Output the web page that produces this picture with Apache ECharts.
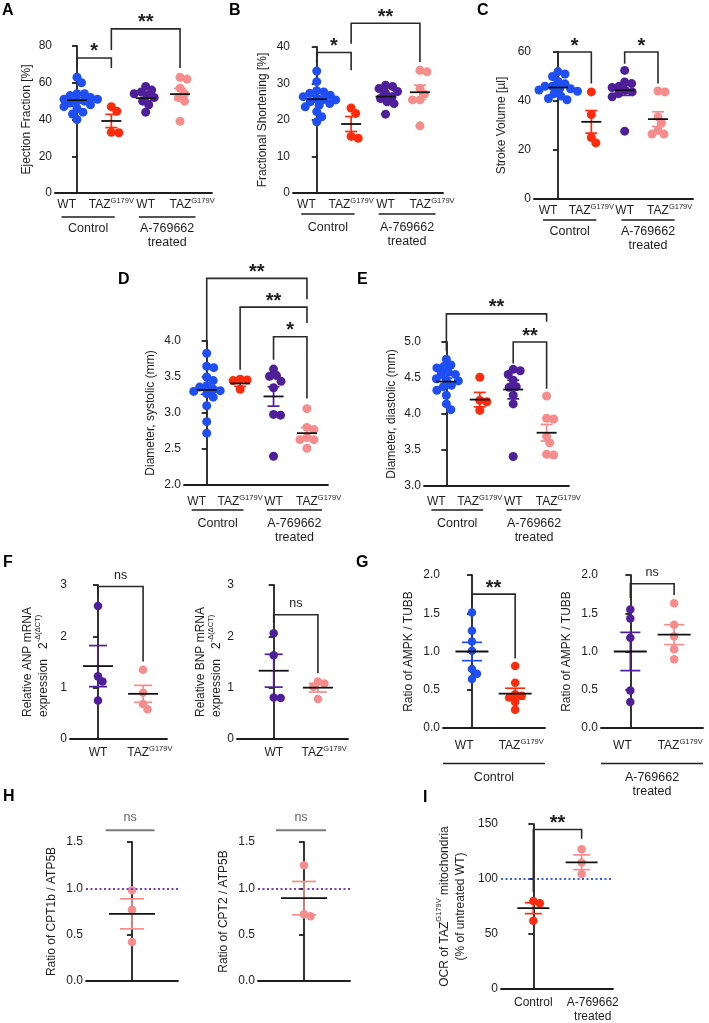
<!DOCTYPE html>
<html><head><meta charset="utf-8">
<script src="https://cdn.jsdelivr.net/npm/echarts@6/dist/echarts.min.js"></script>
<style>html,body{margin:0;padding:0;background:#fff}#c{width:709px;height:1023px}</style>
</head><body><div id="c"></div><script>
// ---------- text ----------
const GENO4 = ['WT', 'TAZ^{G179V}', 'WT', 'TAZ^{G179V}'];
const GENO2 = ['WT', 'TAZ^{G179V}'];
const GROUPS = ['Control', 'A-769662\ntreated'];
const I_CATS = ['Control', 'A-769662\ntreated'];
const LETTERS = ['A','B','C','D','E','F','G','H','I'];

// ---------- axis ranges [min,max,interval] ----------
const A_Y = [0, 80, 20], B_Y = [0, 40, 10], C_Y = [0, 60, 20];
const D_Y = [2, 4, 0.5], E_Y = [3, 5, 0.5], F_Y = [0, 3, 1];
const G_Y = [0, 2, 0.5], H_Y = [0, 1.5, 0.5], I_Y = [0, 150, 50];

// ---------- data ----------
const A_WT  = [63, 60, 54, 54, 53, 52, 51, 51, 50, 50, 49, 48, 47, 46, 44, 43, 40];
const A_TAZ = [47, 44.5, 33, 32.8];
const A_WTT = [58, 56, 55, 54, 53, 52, 50, 48, 44];
const A_TAZT= [63, 62, 57, 54, 52, 50, 39];
const A_MEAN = [50.5, 39.2, 51.6, 53.8], A_SEM = [1.5, 3.6, 1.4, 3.1];
const A_SIG = [[0, 1, 73.5, 68.6, 68, '*'], [1, 3, 89.3, 77.8, 68, '**']];

const B_WT  = [33.4, 30.5, 28, 27.7, 27.3, 26.8, 26.4, 25.9, 25.6, 25.5, 25, 24.5, 24.1, 23.6, 22.3, 20.9, 19.5];
const B_TAZ = [23.3, 21.8, 15.5, 15];
const B_WTT = [29.5, 29.2, 28.6, 27.8, 27.3, 26.4, 25.9, 25, 24.5, 21.6];
const B_TAZT= [33.6, 33.2, 28.6, 27.1, 25.5, 25.5, 18.4];
const B_MEAN = [25.7, 18.9, 26.4, 27.6], B_SEM = [0.8, 2.05, 0.8, 1.95];
const B_SIG = [[0, 1, 38.5, 35.6, 33.6, '*'], [1, 3, 46.5, 40.9, 35.9, '**']];

const C_WT  = [52, 51, 50, 48, 47, 46, 46, 45, 45, 44.5, 44, 43, 42, 41, 40.5];
const C_TAZ = [43.7, 34.5, 25.1, 22.9];
const C_WTT = [52.5, 47.8, 47.1, 46, 45.5, 44.4, 43.7, 43, 41.7, 27.7];
const C_TAZT= [44.1, 43.7, 33.5, 31, 28, 26.5, 26.5];
const C_MEAN = [45.5, 31.5, 44.4, 32.6], C_SEM = [0.9, 4.6, 2.1, 3.0];
const C_SIG = [[0, 1, 60, 55.2, 47.1, '*'], [2, 3, 60, 55.2, 47.1, '*']];

const D_WT  = [3.83, 3.65, 3.63, 3.50, 3.45, 3.38, 3.36, 3.33, 3.31, 3.30, 3.27, 3.22, 3.10, 2.88, 2.72];
const D_TAZ = [3.47, 3.46, 3.45, 3.33];
const D_WTT = [3.61, 3.52, 3.51, 3.44, 3.35, 2.98, 2.97, 2.40];
const D_TAZT= [3.06, 2.80, 2.77, 2.66, 2.63, 2.63, 2.51];
const D_MEAN = [3.32, 3.41, 3.23, 2.72], D_SEM = [0.06, 0.04, 0.135, 0.08];
const D_SIG = [[0, 3, 4.87, 3.93, 4.58, '**'], [1, 3, 4.47, 3.6, 4.25, '**'], [2, 3, 4.06, 3.74, 3.2, '*']];

const E_WT  = [4.76, 4.68, 4.66, 4.64, 4.58, 4.56, 4.55, 4.49, 4.47, 4.46, 4.40, 4.38, 4.33, 4.26, 4.14, 4.06];
const E_TAZ = [4.51, 4.19, 4.17, 4.05];
const E_WTT = [4.62, 4.60, 4.55, 4.47, 4.38, 4.37, 4.26, 4.14, 3.41];
const E_TAZT= [4.25, 3.94, 3.93, 3.69, 3.60, 3.44, 3.43];
const E_MEAN = [4.45, 4.20, 4.34, 3.74], E_SEM = [0.05, 0.10, 0.13, 0.115];
const E_SIG = [[0, 3, 5.39, 4.88, 5.28, '**'], [2, 3, 5.0, 4.70, 4.35, '**']];

const F1_WT = [2.59, 1.22, 1.12, 0.75], F1_TAZ = [1.35, 0.90, 0.68, 0.58];
const F1_MEAN = [1.42, 0.88], F1_SEM = [0.40, 0.165];
const F1_SIG = [[0, 1, 2.97, 2.77, 1.51, 'ns']];
const F2_WT = [2.06, 1.63, 0.81, 0.80], F2_TAZ = [1.12, 1.08, 1.02, 0.78];
const F2_MEAN = [1.33, 1.0], F2_SEM = [0.32, 0.085];
const F2_SIG = [[0, 1, 2.42, 2.26, 1.28, 'ns']];

const G1_WT = [1.51, 1.27, 1.13, 1.01, 0.77, 0.71, 0.64], G1_TAZ = [0.81, 0.59, 0.44, 0.42, 0.40, 0.34, 0.24];
const G1_MEAN = [1.0, 0.45], G1_SEM = [0.12, 0.07];
const G1_SIG = [[0, 1, 1.75, 1.61, 0.91, '**']];
const G2_WT = [1.55, 1.43, 1.18, 0.49, 0.34], G2_TAZ = [1.63, 1.35, 1.20, 1.03, 0.90];
const G2_MEAN = [1.0, 1.22], G2_SEM = [0.25, 0.13];
const G2_SIG = [[0, 1, 1.885, 1.70, 1.74, 'ns']];

const H1_VAL = [0.98, 0.77, 0.42], H1_MEAN = [0.725], H1_SEM = [0.162];
const H1_SIG = [[-0.57, 0.49, 1.627, 1.627, 1.627, 'ns']];
const H2_VAL = [1.25, 0.72, 0.70], H2_MEAN = [0.894], H2_SEM = [0.18];
const H2_SIG = [[-0.61, 0.48, 1.627, 1.627, 1.627, 'ns']];
const H_REF = 1.0;

const I_CTRL = [80, 78, 62], I_TRT = [127, 115, 104.5];
const I_MEAN = [73.5, 115.2], I_SEM = [5, 6.7];
const I_SIG = [[0, 1, 145, 88.4, 136.6, '**']];
const I_REF = 100;

// ---------- style ----------
const FONT = "'Liberation Sans', Arial, Helvetica, sans-serif";
const INK = '#1e1e1e';
const BLUE = '#1f4ff2', RED = '#ff2b0c', PURPLE = '#4f1f9a', PINK = '#f78c8c';
const C4 = [BLUE, RED, PURPLE, PINK];

const panels = [
  {g:[55,46,157,147], xr:[-0.64,3.93], y:A_Y, dec:0, name:'Ejection Fraction [%]', gap:22.5,
   sets:[A_WT,A_TAZ,A_WTT,A_TAZT], cols:C4, mean:A_MEAN, sem:A_SEM, sig:A_SIG,
   labels:GENO4, lpos:[-0.3,1,2,3.35], lm:4, grp:{spans:[[-0.45,1.1],[1.8,3.45]], texts:GROUPS, line:24, text:36},
   meanW:20, capW:12, dot:9},
  {g:[293,47,150,146], xr:[-0.69,3.67], y:B_Y, dec:0, name:'Fractional Shortening [%]', gap:24.5,
   sets:[B_WT,B_TAZ,B_WTT,B_TAZT], cols:C4, mean:B_MEAN, sem:B_SEM, sig:B_SIG,
   labels:GENO4, lpos:[-0.3,1,2,3.35], lm:4, grp:{spans:[[-0.45,1.1],[1.8,3.45]], texts:GROUPS, line:21, text:35},
   meanW:20, capW:12, dot:9},
  {g:[534,52,159,147], xr:[-0.72,4.05], y:C_Y, dec:0, name:'Stroke Volume [µl]', gap:26.5,
   sets:[C_WT,C_TAZ,C_WTT,C_TAZT], cols:C4, mean:C_MEAN, sem:C_SEM, sig:C_SIG,
   labels:GENO4, lpos:[-0.3,1,2,3.35], lm:4, grp:{spans:[[-0.45,1.15],[1.9,3.5]], texts:GROUPS, line:21, text:33},
   meanW:20, capW:12, dot:9},
  {g:[184,341,144,144], xr:[-0.68,3.63], y:D_Y, dec:1, name:'Diameter, systolic (mm)', gap:27.5,
   sets:[D_WT,D_TAZ,D_WTT,D_TAZT], cols:C4, mean:D_MEAN, sem:D_SEM, sig:D_SIG,
   labels:GENO4, lpos:[-0.3,1,2,3.35], lm:9, grp:{spans:[[-0.45,1.1],[1.8,3.45]], texts:GROUPS, line:25, text:39},
   meanW:20, capW:12, dot:9},
  {g:[424,342,145,144], xr:[-0.67,3.67], y:E_Y, dec:1, name:'Diameter, diastolic (mm)', gap:26.8,
   sets:[E_WT,E_TAZ,E_WTT,E_TAZT], cols:C4, mean:E_MEAN, sem:E_SEM, sig:E_SIG,
   labels:GENO4, lpos:[-0.3,1,2,3.35], lm:8, grp:{spans:[[-0.45,1.1],[1.8,3.45]], texts:GROUPS, line:24, text:38},
   meanW:20, capW:12, dot:9},
  {g:[70,585,97,154], xr:[-0.62,1.53], y:F_Y, dec:0, name:'Relative ANP mRNA\nexpression   2^{-Δ(ΔCT)}', gap:20, left:true,
   sets:[F1_WT,F1_TAZ], cols:[PURPLE,PINK], mean:F1_MEAN, sem:F1_SEM, sig:F1_SIG,
   labels:GENO2, lpos:[0,1.15], lm:6, meanW:30, capW:18, dot:8.5},
  {g:[237,585,111,154], xr:[-0.83,1.68], y:F_Y, dec:0, name:'Relative BNP mRNA\nexpression   2^{-Δ(ΔCT)}', gap:14, left:true,
   sets:[F2_WT,F2_TAZ], cols:[PURPLE,PINK], mean:F2_MEAN, sem:F2_SEM, sig:F2_SIG,
   labels:GENO2, lpos:[0,1.14], lm:6, meanW:30, capW:18, dot:8.5},
  {g:[443,575,102,153], xr:[-0.67,1.69], y:G_Y, dec:1, name:'Ratio of AMPK / TUBB', gap:28.5,
   sets:[G1_WT,G1_TAZ], cols:[BLUE,RED], mean:G1_MEAN, sem:G1_SEM, sig:G1_SIG,
   labels:GENO2, lpos:[-0.18,1.14], lm:10, grp:{spans:[[-0.67,1.69]], texts:[GROUPS[0]], line:35.6, text:50},
   meanW:33, capW:20, dot:8.5},
  {g:[601,575,102,153], xr:[-0.67,1.66], y:G_Y, dec:1, name:'Ratio of AMPK / TUBB', gap:28.2,
   sets:[G2_WT,G2_TAZ], cols:[PURPLE,PINK], mean:G2_MEAN, sem:G2_SEM, sig:G2_SIG,
   labels:GENO2, lpos:[-0.18,1.14], lm:10, grp:{spans:[[-0.67,1.66]], texts:[GROUPS[1]], line:35.6, text:50},
   meanW:33, capW:20, dot:8.5},
  {g:[86,842,92,139], xr:[-1,1], y:H_Y, dec:1, name:'Ratio of CPT1b / ATP5B', gap:28.5,
   sets:[H1_VAL], cols:[PINK], mean:H1_MEAN, sem:H1_SEM, sig:H1_SIG, ref:H_REF, refCol:'#6b3fd8',
   meanW:46, capW:24, dot:8.5},
  {g:[258,842,92,139], xr:[-1,1], y:H_Y, dec:1, name:'Ratio of CPT2 / ATP5B', gap:28.5,
   sets:[H2_VAL], cols:[PINK], mean:H2_MEAN, sem:H2_SEM, sig:H2_SIG, ref:H_REF, refCol:'#6b3fd8',
   meanW:46, capW:24, dot:8.5},
  {g:[501,824,112,168], xr:[-0.67,1.65], y:I_Y, dec:0, name:'OCR of TAZ^{G179V} mitochondria\n(% of untreated WT)', gap:34,
   sets:[I_CTRL,I_TRT], cols:[RED,PINK], mean:I_MEAN, sem:I_SEM, sig:I_SIG, ref:I_REF, refCol:'#3a5cff',
   labels:I_CATS, lpos:[0,1.23], lm:6, meanW:32, capW:17, dot:8.5}
];
const LETTER_POS = [[2,3],[229,3],[477,3],[118,272],[357,272],[3,555],[356,555],[3,789],[423,790]];

function richify(s, b, sp) {
  return s.split('\n').map(line => line.split(/\^\{([^}]*)\}/)
    .map((t, i) => t === '' ? '' : (i % 2 ? '{' + sp + '|' + t + '}' : '{' + b + '|' + t + '}')).join('')).join('\n');
}

// compact beeswarm: minimal horizontal offsets so that dots (in pixel space) keep a minimum distance
function swarm(values, pxY, d) {
  const order = values.map((v, i) => i).sort((a, b) => values[b] - values[a]);
  const placed = [], off = new Array(values.length).fill(0);
  for (const i of order) {
    const y = values[i] * pxY;
    let best = 0;
    for (let step = 0; step < 400; step++) {
      const cand = step === 0 ? 0 : (step % 2 ? 1 : -1) * Math.ceil(step / 2) * 0.5;
      if (placed.every(p => Math.hypot(p.x - cand, p.y - y) >= d)) { best = cand; break; }
    }
    placed.push({x: best, y}); off[i] = best;
  }
  return off;
}

const option = {animation: false, backgroundColor: '#fff', textStyle: {fontFamily: FONT},
  grid: [], xAxis: [], yAxis: [], series: []};

panels.forEach((p, i) => {
  option.grid.push({left: p.g[0], top: p.g[1], width: p.g[2], height: p.g[3]});
  const xl = p.labels ? {
    show: true, customValues: p.lpos, margin: p.lm, interval: 0,
    formatter: v => { const k = p.lpos.findIndex(q => Math.abs(q - v) < 1e-6); return k < 0 ? '' : richify(p.labels[k], 'b', 's'); },
    rich: {
      b: {fontSize: 12, lineHeight: 14, verticalAlign: 'bottom', color: INK, fontFamily: FONT},
      s: {fontSize: 7.5, lineHeight: 9, verticalAlign: 'top', color: INK, fontFamily: FONT}
    }
  } : {show: false};
  option.xAxis.push({type: 'value', gridIndex: i, min: p.xr[0], max: p.xr[1],
    axisLine: {show: true, onZero: false, lineStyle: {color: INK, width: 1.8}},
    axisTick: {show: false}, splitLine: {show: false}, axisLabel: xl});
  const nameRich = {
    n: {fontSize: 12, lineHeight: 16, verticalAlign: 'bottom', color: INK, fontFamily: FONT},
    s: {fontSize: 7.5, lineHeight: 10, verticalAlign: 'top', color: INK, fontFamily: FONT}
  };
  if (p.left) { nameRich.n.align = 'left'; nameRich.s.align = 'left'; }
  option.yAxis.push({type: 'value', gridIndex: i, min: p.y[0], max: p.y[1], interval: p.y[2],
    axisLine: {show: true, lineStyle: {color: INK, width: 1.8}},
    axisTick: {show: true, length: 5, lineStyle: {color: INK, width: 1.8}},
    splitLine: {show: false},
    axisLabel: {fontSize: 12, color: INK, margin: 3, fontFamily: FONT, formatter: v => v.toFixed(p.dec)},
    name: richify(p.name, 'n', 's'), nameLocation: 'middle', nameGap: p.gap,
    nameTextStyle: {rich: nameRich, fontSize: 12, color: INK}});

  const pxX = p.g[2] / (p.xr[1] - p.xr[0]);
  const pxY = p.g[3] / (p.y[1] - p.y[0]);
  p.sets.forEach((vals, k) => {
    const off = swarm(vals, pxY, p.dot * 0.78);
    const s = {type: 'scatter', xAxisIndex: i, yAxisIndex: i, symbolSize: p.dot, z: 2, silent: true,
      itemStyle: {color: p.cols[k], opacity: 1}, emphasis: {disabled: true},
      data: vals.map((v, j) => [k + off[j] / pxX, v])};
    if (p.ref !== undefined && k === 0) {
      s.markLine = {silent: true, symbol: 'none', label: {show: false},
        lineStyle: {type: [2, 2.5], color: p.refCol, width: 2}, data: [{yAxis: p.ref}]};
    }
    option.series.push(s);
  });
  // mean + SEM
  option.series.push({type: 'custom', xAxisIndex: i, yAxisIndex: i, z: 5, silent: true, clip: false,
    data: p.mean.map((m, k) => [k, m]),
    renderItem: (params, api) => {
      const k = params.dataIndex, m = p.mean[k], s = p.sem[k], col = p.cols[k];
      const c = api.coord([k, m]), hi = api.coord([k, m + s]), lo = api.coord([k, m - s]);
      const lw = 1.7;
      return {type: 'group', children: [
        {type: 'line', shape: {x1: c[0], y1: hi[1], x2: c[0], y2: lo[1]}, style: {stroke: col, lineWidth: lw}},
        {type: 'line', shape: {x1: c[0] - p.capW / 2, y1: hi[1], x2: c[0] + p.capW / 2, y2: hi[1]}, style: {stroke: col, lineWidth: lw}},
        {type: 'line', shape: {x1: c[0] - p.capW / 2, y1: lo[1], x2: c[0] + p.capW / 2, y2: lo[1]}, style: {stroke: col, lineWidth: lw}},
        {type: 'line', shape: {x1: c[0] - p.meanW / 2, y1: c[1], x2: c[0] + p.meanW / 2, y2: c[1]}, style: {stroke: '#111', lineWidth: 1.8}}
      ]};
    }});
  // significance brackets
  option.series.push({type: 'custom', xAxisIndex: i, yAxisIndex: i, z: 6, silent: true, clip: false,
    data: p.sig.map(b => [b[0], b[2]]),
    renderItem: (params, api) => {
      const b = p.sig[params.dataIndex];
      const ns = b[5] === 'ns';
      const gray = b[3] === b[2] && b[4] === b[2];
      const col = gray ? '#7a7a7a' : '#2a2a2a';
      const p1 = api.coord([b[0], b[3]]), p2 = api.coord([b[0], b[2]]), p3 = api.coord([b[1], b[2]]), p4 = api.coord([b[1], b[4]]);
      return {type: 'group', children: [
        {type: 'polyline', shape: {points: [p1, p2, p3, p4]}, style: {stroke: col, lineWidth: gray ? 2 : 1.6, fill: null}},
        {type: 'text', style: {text: b[5], x: (p2[0] + p3[0]) / 2, y: p2[1] + (ns ? (gray ? -13 : -11) : -6),
          align: 'center', verticalAlign: 'middle', fill: gray ? '#666' : INK,
          font: ns ? ('12.5px ' + FONT) : ('bold 20px ' + FONT)}}
      ]};
    }});
});

const chart = echarts.init(document.getElementById('c'), null, {renderer: 'canvas'});
chart.setOption(option);

const gfx = [];
LETTERS.forEach((L, k) => gfx.push({type: 'text', left: LETTER_POS[k][0], top: LETTER_POS[k][1],
  style: {text: L, font: 'bold 16px ' + FONT, fill: '#000'}}));
panels.forEach((p, i) => {
  if (!p.grp) return;
  p.grp.spans.forEach((sp, k) => {
    const a = chart.convertToPixel({gridIndex: i}, [sp[0], p.y[0]]);
    const b = chart.convertToPixel({gridIndex: i}, [sp[1], p.y[0]]);
    const y0 = a[1];
    gfx.push({type: 'line', shape: {x1: a[0], y1: y0 + p.grp.line, x2: b[0], y2: y0 + p.grp.line},
      style: {stroke: INK, lineWidth: 1.5}});
    gfx.push({type: 'text', x: (a[0] + b[0]) / 2, y: y0 + p.grp.text - 6.75,
      style: {text: p.grp.texts[k], x: 0, y: 0, align: 'center', verticalAlign: 'top', textAlign: 'center', textVerticalAlign: 'top',
        font: '12.5px ' + FONT, fill: INK, lineHeight: 13.5}});
  });
});
chart.setOption({graphic: gfx});
</script></body></html>
